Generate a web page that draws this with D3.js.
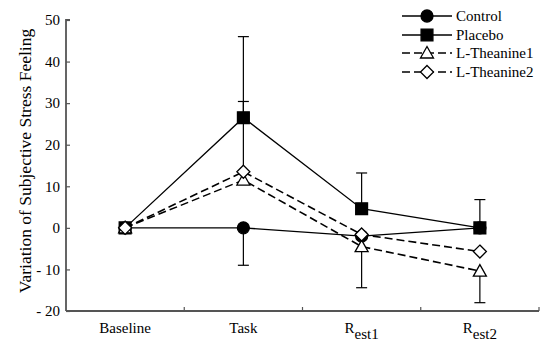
<!DOCTYPE html>
<html>
<head>
<meta charset="utf-8">
<script src="https://cdn.jsdelivr.net/npm/d3@7"></script>
<style>
  html, body { margin: 0; padding: 0; background: #fff; }
</style>
</head>
<body>
<svg id="chart" width="550" height="351"></svg>
<script>
const categories = ["Baseline", "Task", "Rest1", "Rest2"];
const yTicks = [-20, -10, 0, 10, 20, 30, 40, 50];

const seriesNames = ["Control", "Placebo", "L-Theanine1", "L-Theanine2"];
const controlValues    = [0, 0, -2.0, 0];
const placeboValues    = [0, 26.5, 4.6, 0];
const theanine1Values  = [0, 11.5, -4.5, -10.4];
const theanine2Values  = [0, 13.5, -1.6, -5.7];

const controlErrUp     = [0, 0, 0, 0];
const controlErrDown   = [0, 9.0, 0, 0];
const placeboErrUp     = [0, 19.5, 8.6, 6.8];
const placeboErrDown   = [0, 0, 0, 0];
const theanine1ErrUp   = [0, 18.9, 0, 0];
const theanine1ErrDown = [0, 0, 9.9, 7.6];
const theanine2ErrUp   = [0, 0, 0, 0];
const theanine2ErrDown = [0, 0, 0, 0];

const series = [
  { name: seriesNames[0], values: controlValues,   up: controlErrUp,   down: controlErrDown,   marker: "circle",   dashed: false },
  { name: seriesNames[1], values: placeboValues,   up: placeboErrUp,   down: placeboErrDown,   marker: "square",   dashed: false },
  { name: seriesNames[2], values: theanine1Values, up: theanine1ErrUp, down: theanine1ErrDown, marker: "triangle", dashed: true },
  { name: seriesNames[3], values: theanine2Values, up: theanine2ErrUp, down: theanine2ErrDown, marker: "diamond",  dashed: true }
];

const svg = d3.select("#chart");
const FONT = "'Liberation Serif'";
const mLeft = 66, mRight = 539, mTop = 20, mBottom = 311;

const x = d3.scaleBand().domain(categories).range([mLeft, mRight]).padding(0);
const y = d3.scaleLinear().domain([-20, 50]).range([mBottom, mTop]);
const cx = c => x(c) + x.bandwidth() / 2;

// Y axis
const yAxis = svg.append("g").attr("transform", `translate(${mLeft},0)`)
  .call(d3.axisRight(y).tickValues(yTicks).tickSize(4).tickFormat(""));
yAxis.select(".domain").attr("stroke", "#555").attr("stroke-width", 1.8).attr("d", `M4,${mTop}H0V${mBottom}`);
yAxis.selectAll(".tick line").attr("stroke", "#555").attr("stroke-width", 1.2);
svg.append("g").selectAll("text").data(yTicks).join("text")
  .attr("font-family", FONT)
  .attr("x", 60).attr("y", d => y(d)).attr("dy", "0.35em")
  .attr("text-anchor", "end").attr("font-size", 15)
  .text(d => d < 0 ? "- " + Math.abs(d) : d);

// X axis
const xAxis = svg.append("g").attr("transform", `translate(0,${mBottom})`)
  .call(d3.axisTop(x).tickSize(0).tickFormat(""));
xAxis.select(".domain").attr("stroke", "#555").attr("stroke-width", 1.8).attr("d", `M${mLeft},0H${mRight}`);
xAxis.selectAll(".tick").remove();
svg.append("g").selectAll("line").data(categories).join("line")
  .attr("x1", d => x(d) + x.bandwidth()).attr("x2", d => x(d) + x.bandwidth())
  .attr("y1", mBottom).attr("y2", mBottom - 4)
  .attr("stroke", "#555").attr("stroke-width", 1.2);

const xl = svg.append("g").selectAll("text").data(categories).join("text")
  .attr("font-family", FONT)
  .attr("x", d => cx(d)).attr("y", 333)
  .attr("text-anchor", "middle").attr("font-size", 15);
xl.each(function(d) {
  const t = d3.select(this);
  if (d.startsWith("Rest")) {
    t.append("tspan").text("R");
    t.append("tspan").attr("dy", 6).text("est" + d.slice(4));
  } else {
    t.text(d);
  }
});

// Y title
svg.append("text")
  .attr("font-family", FONT)
  .attr("transform", `translate(31,161) rotate(-90)`)
  .attr("text-anchor", "middle").attr("font-size", 17.5)
  .text("Variation of Subjective Stress Feeling");

// Error bars
const capW = 5.5;
const eb = svg.append("g").attr("stroke", "#000").attr("stroke-width", 1.2);
series.forEach(s => {
  categories.forEach((c, i) => {
    const v = s.values[i];
    [[s.up[i], 1], [s.down[i], -1]].forEach(([e, dir]) => {
      if (e > 0) {
        const yEnd = y(v + dir * e);
        eb.append("line").attr("x1", cx(c)).attr("x2", cx(c)).attr("y1", y(v)).attr("y2", yEnd);
        eb.append("line").attr("x1", cx(c) - capW).attr("x2", cx(c) + capW).attr("y1", yEnd).attr("y2", yEnd);
      }
    });
  });
});

// Lines
const line = d3.line().x((d, i) => cx(categories[i])).y(d => y(d));
series.forEach(s => {
  svg.append("path").datum(s.values).attr("d", line)
    .attr("fill", "none").attr("stroke", "#000")
    .attr("stroke-width", s.dashed ? 1.6 : 1.3)
    .attr("stroke-dasharray", s.dashed ? "8,4" : null);
});

// Markers
const symbolPath = {
  circle: d3.symbol().type(d3.symbolCircle).size(Math.PI * 36)(),
  square: d3.symbol().type(d3.symbolSquare).size(140)(),
  triangle: "M0,-6.5L6.5,5L-6.5,5Z",
  diamond: "M0,-6.5L6.5,0L0,6.5L-6.5,0Z"
};
function drawMarker(g, type, px, py) {
  const filled = (type === "circle" || type === "square");
  g.append("path").attr("d", symbolPath[type])
    .attr("transform", `translate(${px},${py})`)
    .attr("fill", filled ? "#000" : "#fff")
    .attr("stroke", "#000").attr("stroke-width", 1.3);
}
series.forEach(s => {
  const g = svg.append("g");
  s.values.forEach((v, i) => drawMarker(g, s.marker, cx(categories[i]), y(v)));
});

// Legend
const legY = [16, 35, 53, 72];
const lg = svg.append("g");
series.forEach((s, i) => {
  const ly = legY[i];
  lg.append("line").attr("x1", 402).attr("x2", 452).attr("y1", ly).attr("y2", ly)
    .attr("stroke", "#000").attr("stroke-width", s.dashed ? 1.6 : 1.3)
    .attr("stroke-dasharray", s.dashed ? "8,4" : null);
  drawMarker(lg, s.marker, 427, ly);
  lg.append("text").attr("font-family", FONT)
    .attr("x", 456).attr("y", ly).attr("dy", "0.35em")
    .attr("font-size", 15).text(s.name);
});
</script>
</body>
</html>
